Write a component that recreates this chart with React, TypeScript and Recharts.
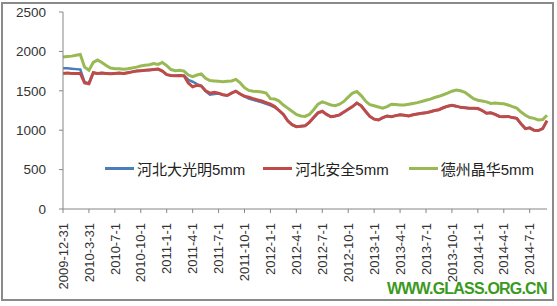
import { LineChart, Line, XAxis, YAxis, Legend } from 'recharts';

// tick labels every 3 months; 6 samples per tick interval
const tickLabels = [
  '2009-12-31', '2010-3-31', '2010-7-1', '2010-10-1', '2011-1-1', '2011-4-1', '2011-7-1',
  '2011-10-1', '2012-1-1', '2012-4-1', '2012-7-1', '2012-10-1', '2013-1-1', '2013-4-1',
  '2013-7-1', '2013-10-1', '2014-1-1', '2014-4-1', '2014-7-1',
];
const STEP = 6;

const daguangming = [
  1785, 1785, 1780, 1775, 1770, 1610, 1595, 1730, 1720, 1725, 1720, 1715, 1720, 1725, 1720, 1730,
  1740, 1750, 1755, 1760, 1765, 1770, 1775, 1750, 1705, 1695, 1690, 1695, 1690, 1640, 1615, 1585,
  1565, 1495, 1450, 1460, 1465, 1450, 1440, 1470, 1495, 1460, 1430, 1400, 1385, 1370, 1355, 1335,
  1315, 1290, 1250, 1200, 1120, 1070, 1045, 1050, 1055, 1100, 1160, 1220, 1240, 1200, 1170, 1180,
  1195, 1230, 1265, 1300, 1345, 1310, 1240, 1175, 1140, 1130, 1160, 1180, 1170, 1185, 1195, 1190,
  1180, 1195, 1205, 1215, 1220, 1235, 1250, 1260, 1285, 1305, 1315, 1305, 1290, 1285, 1280, 1280,
  1275, 1250, 1215, 1220, 1200, 1175, 1170, 1175, 1160, 1150, 1080, 1020, 1030, 1000, 995, 1020, 1120,
];
const anquan = [
  1720, 1725, 1720, 1720, 1720, 1600, 1590, 1730, 1720, 1725, 1720, 1715, 1720, 1725, 1720, 1730,
  1740, 1750, 1755, 1760, 1765, 1770, 1775, 1750, 1705, 1695, 1690, 1695, 1690, 1600, 1550, 1570,
  1560, 1500, 1470, 1480, 1470, 1450, 1440, 1470, 1495, 1460, 1430, 1420, 1400, 1385, 1370, 1350,
  1330, 1300, 1250, 1200, 1120, 1070, 1045, 1050, 1055, 1100, 1160, 1220, 1240, 1200, 1170, 1180,
  1195, 1230, 1265, 1300, 1345, 1310, 1240, 1175, 1140, 1130, 1160, 1180, 1170, 1185, 1195, 1190,
  1180, 1195, 1205, 1215, 1220, 1235, 1250, 1260, 1285, 1305, 1315, 1305, 1290, 1285, 1280, 1280,
  1275, 1250, 1215, 1220, 1200, 1175, 1170, 1175, 1160, 1150, 1080, 1020, 1030, 1000, 995, 1020, 1120,
];
const jinghua = [
  1930, 1935, 1940, 1950, 1960, 1800, 1760, 1860, 1890, 1860, 1820, 1790, 1780, 1780, 1775, 1780,
  1790, 1800, 1815, 1825, 1830, 1845, 1835, 1860, 1820, 1770, 1755, 1760, 1750, 1700, 1680, 1700,
  1715, 1660, 1630, 1625, 1620, 1615, 1620, 1625, 1645, 1600, 1540, 1505, 1495, 1490, 1485, 1470,
  1400, 1395, 1370, 1320, 1280, 1240, 1200, 1180, 1175, 1200, 1260, 1330, 1360, 1340, 1320, 1310,
  1330, 1365, 1420, 1470, 1490, 1440, 1370, 1325, 1310, 1295, 1280, 1300, 1330, 1325, 1320, 1320,
  1330, 1340, 1350, 1365, 1380, 1395, 1415, 1430, 1450, 1470, 1495, 1510, 1500, 1480, 1440, 1400,
  1380, 1370, 1360, 1340, 1345, 1340, 1335, 1320, 1300, 1280, 1230, 1190, 1160, 1150, 1130, 1135, 1190,
];

const yTicks = [0, 500, 1000, 1500, 2000, 2500];

const seriesNames = ['河北大光明5mm', '河北安全5mm', '德州晶华5mm'];
const seriesColors = ['#4A7EBB', '#BE4B48', '#98B954'];

const data = anquan.map((_, i) => ({
  i,
  a: daguangming[i],
  b: anquan[i],
  c: jinghua[i],
}));

const FONT = '"Liberation Sans", Arial, "Noto Sans CJK SC", sans-serif';

function DateTick({ x, y, payload }: any) {
  const label = tickLabels[Math.round(payload.value / STEP)] ?? '';
  return (
    <g transform={`translate(${x},${y})`}>
      <text transform="rotate(-90)" textAnchor="end" dy="0.36em" fontSize={13} fill="#333" fontFamily={FONT}>
        {label}
      </text>
    </g>
  );
}

function LegendBox() {
  return (
    <div style={{ display: 'flex', alignItems: 'center', fontFamily: FONT, fontSize: 15, color: '#222' }}>
      {seriesNames.map((n, k) => (
        <div key={n} style={{ display: 'flex', alignItems: 'center', marginRight: k === 0 ? 18 : 20 }}>
          <div style={{ width: 29, height: 3, background: seriesColors[k], marginRight: 3 }} />
          <span>{n}</span>
        </div>
      ))}
    </div>
  );
}

export default function App() {
  return (
    <div style={{ position: 'fixed', left: 0, top: 0, width: 557, height: 306, background: '#fff' }}>
      <div
        style={{
          position: 'absolute', left: 1, top: 2, width: 549, height: 295,
          border: '2px solid #8a8a8a',
        }}
      />
      <LineChart
        width={557}
        height={306}
        data={data}
        margin={{ top: 12, right: 10, left: 0, bottom: 0 }}
        style={{ position: 'absolute', left: 0, top: 0 }}
      >
        <XAxis
          dataKey="i"
          type="number"
          domain={[0, anquan.length - 1]}
          ticks={tickLabels.map((_, k) => k * STEP)}
          tick={<DateTick />}
          interval={0}
          height={97}
          tickSize={4}
          tickMargin={10}
          axisLine={{ stroke: '#868686' }}
          tickLine={{ stroke: '#868686' }}
        />
        <YAxis
          domain={[0, 2500]}
          ticks={yTicks}
          width={63}
          tickSize={4}
          tickMargin={13}
          tick={{ fontSize: 13.5, fill: '#333', fontFamily: FONT }}
          axisLine={{ stroke: '#868686' }}
          tickLine={{ stroke: '#868686' }}
        />
        <Legend
          layout="horizontal"
          verticalAlign="middle"
          align="center"
          content={<LegendBox />}
          wrapperStyle={{ top: 158, left: 105, width: 'auto' }}
        />
        <Line dataKey="a" name={seriesNames[0]} stroke={seriesColors[0]} strokeWidth={2.5} dot={false} isAnimationActive={false} />
        <Line dataKey="b" name={seriesNames[1]} stroke={seriesColors[1]} strokeWidth={3} dot={false} isAnimationActive={false} />
        <Line dataKey="c" name={seriesNames[2]} stroke={seriesColors[2]} strokeWidth={3} dot={false} isAnimationActive={false} />
      </LineChart>
      <div
        style={{
          position: 'absolute', left: 387, top: 280, fontFamily: FONT, fontWeight: 900,
          fontSize: 16, letterSpacing: -0.8, color: '#3A9A1E',
        }}
      >
        WWW.GLASS.ORG.CN
      </div>
    </div>
  );
}
